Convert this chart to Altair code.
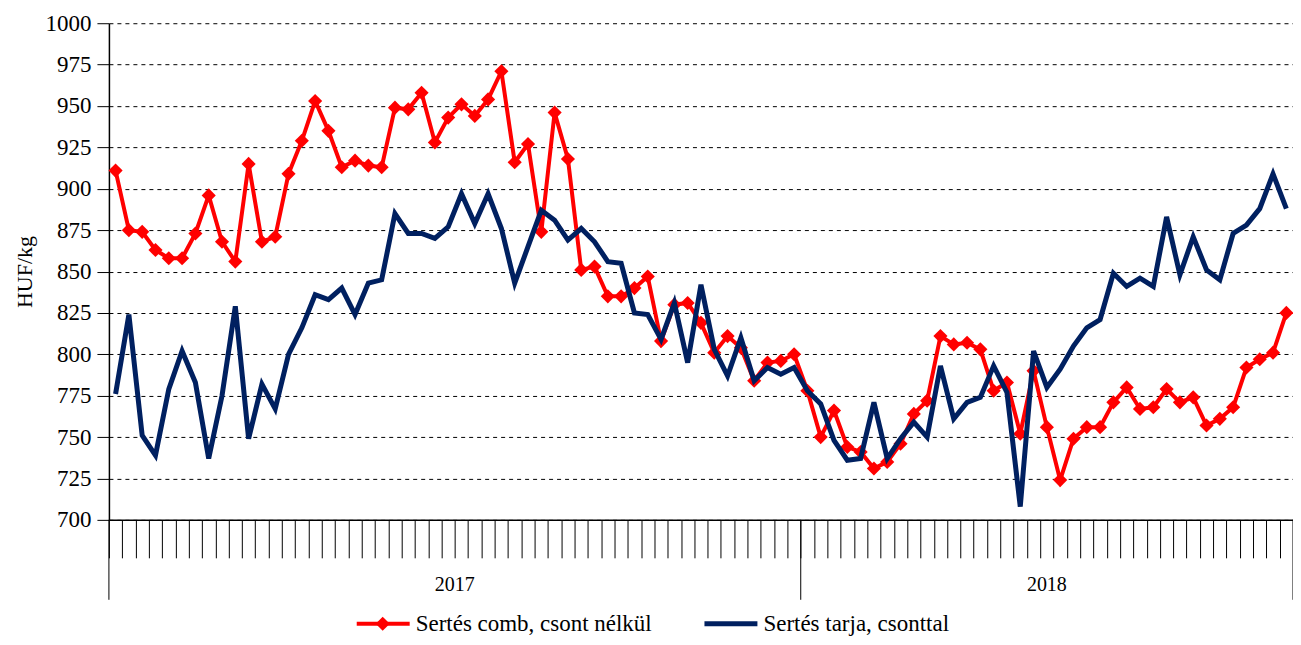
import altair as alt
import pandas as pd

# ---- data ----
series_names = ["Sertés comb, csont nélkül", "Sertés tarja, csonttal"]
series_colors = ["#FF0000", "#002060"]
years = ["2017", "2018"]
weeks_per_year = [52, 37]

comb = [911, 875, 874, 863, 858, 858, 873, 896, 868, 856,
        915, 868, 871, 909, 929, 953, 935, 913, 917, 914,
        913, 949, 948, 958, 928, 943, 951, 944, 954, 971,
        916, 927, 874, 946, 918, 851, 853, 835, 835, 840,
        847, 808, 830, 831, 819, 801, 811, 804, 784, 795,
        796, 800, 778, 750, 766, 744, 741, 731, 735, 746,
        764, 772, 811, 806, 807, 803, 778, 783, 752, 790,
        756, 724, 749, 756, 756, 771, 780, 767, 768, 779,
        771, 774, 757, 761, 768, 792, 797, 801, 825]

tarja = [776, 824, 751, 739, 779, 802, 783, 737, 775, 829,
         749, 782, 767, 800, 816, 836, 833, 840, 824, 843,
         845, 885, 873, 873, 870, 877, 897, 879, 897, 876,
         843, 865, 887, 881, 869, 876, 868, 856, 855, 825,
         824, 809, 831, 795, 842, 803, 787, 810, 784, 792,
         788, 792, 778, 770, 748, 736, 737, 771, 737, 749,
         759, 750, 793, 761, 771, 774, 793, 777, 708, 802,
         780, 791, 805, 816, 821, 849, 841, 846, 841, 883,
         848, 871, 851, 845, 873, 878, 888, 909, 888]

y_ticks = list(range(700, 1001, 25))

n = len(comb)
pos = [i + 0.5 for i in range(n)]
df_comb = pd.DataFrame({"pos": pos, "value": comb})
df_tarja = pd.DataFrame({"pos": pos, "value": tarja})

bounds = [0]
for w in weeks_per_year:
    bounds.append(bounds[-1] + w)
df_bounds = pd.DataFrame({"pos": bounds})
df_years = pd.DataFrame({
    "year": years,
    "pos": [(bounds[i] + bounds[i + 1]) / 2 for i in range(len(years))],
})

FONT = "Liberation Serif"
W, H = 1185, 497
LEFT = 101

xscale = alt.Scale(domain=[0, bounds[-1]], nice=False, zero=False)
yscale = alt.Scale(domain=[700, 1000], nice=False, zero=False)

x_axis = alt.Axis(values=list(range(bounds[-1] + 1)), labels=False, tickSize=38,
                  tickColor="black", tickWidth=1, domainColor="black", domainWidth=1.5,
                  grid=False, title=None)
y_axis = alt.Axis(values=y_ticks, format="d", grid=True, gridDash=[4, 4], gridColor="black",
                  gridWidth=1, gridOpacity=1, tickSize=12, tickColor="black",
                  domainColor="black", domainWidth=1.5,
                  labelFont=FONT, labelFontSize=23, labelColor="black", labelPadding=6,
                  title="HUF/kg", titleFont=FONT, titleFontSize=22,
                  titleFontWeight="normal", titleColor="black", titlePadding=8)

X = alt.X("pos:Q", scale=xscale, axis=x_axis)
Y = alt.Y("value:Q", scale=yscale, axis=y_axis)

red_line = alt.Chart(df_comb).mark_line(color=series_colors[0], strokeWidth=4).encode(x=X, y=Y)
red_pts = alt.Chart(df_comb).mark_point(shape="diamond", filled=True, size=200,
                                         color=series_colors[0], opacity=1).encode(x=X, y=Y)
blue_line = alt.Chart(df_tarja).mark_line(color=series_colors[1], strokeWidth=5).encode(x=X, y=Y)

sep = alt.Chart(df_bounds).mark_rule(color="black", strokeWidth=1).encode(
    x=X, y=alt.value(H), y2=alt.value(H + 80))
year_txt = alt.Chart(df_years).mark_text(font=FONT, fontSize=20, color="black",
                                          baseline="middle", align="center").encode(
    x=X, y=alt.value(H + 65), text="year:N")

# legend (manual, below the chart)
df_leg0 = pd.DataFrame({"name": [series_names[0]]})
df_leg1 = pd.DataFrame({"name": [series_names[1]]})
LY = H + 104
OX = 110 - (8 + LEFT)
leg_red_line = alt.Chart(df_leg0).mark_rule(color=series_colors[0], strokeWidth=4).encode(
    x=alt.value(247 + OX), x2=alt.value(300 + OX), y=alt.value(LY))
leg_red_pt = alt.Chart(df_leg0).mark_point(shape="diamond", filled=True, size=200,
                                            color=series_colors[0], opacity=1).encode(
    x=alt.value(273 + OX), y=alt.value(LY))
leg_red_txt = alt.Chart(df_leg0).mark_text(font=FONT, fontSize=23, color="black",
                                            align="left", baseline="middle").encode(
    x=alt.value(306 + OX), y=alt.value(LY), text="name:N")
leg_blue_line = alt.Chart(df_leg1).mark_rule(color=series_colors[1], strokeWidth=5).encode(
    x=alt.value(595 + OX), x2=alt.value(648 + OX), y=alt.value(LY))
leg_blue_txt = alt.Chart(df_leg1).mark_text(font=FONT, fontSize=23, color="black",
                                             align="left", baseline="middle").encode(
    x=alt.value(654 + OX), y=alt.value(LY), text="name:N")

chart = alt.layer(
    red_line, red_pts, blue_line, sep, year_txt,
    leg_red_line, leg_red_pt, leg_red_txt, leg_blue_line, leg_blue_txt,
).properties(
    width=W, height=H,
    background="white",
    autosize=alt.AutoSizeParams(type="none"),
    padding={"left": LEFT, "top": 15, "right": 0, "bottom": 117},
).configure_view(stroke=None)

chart.save("out.html", embed_options={"renderer": "svg", "actions": False})
